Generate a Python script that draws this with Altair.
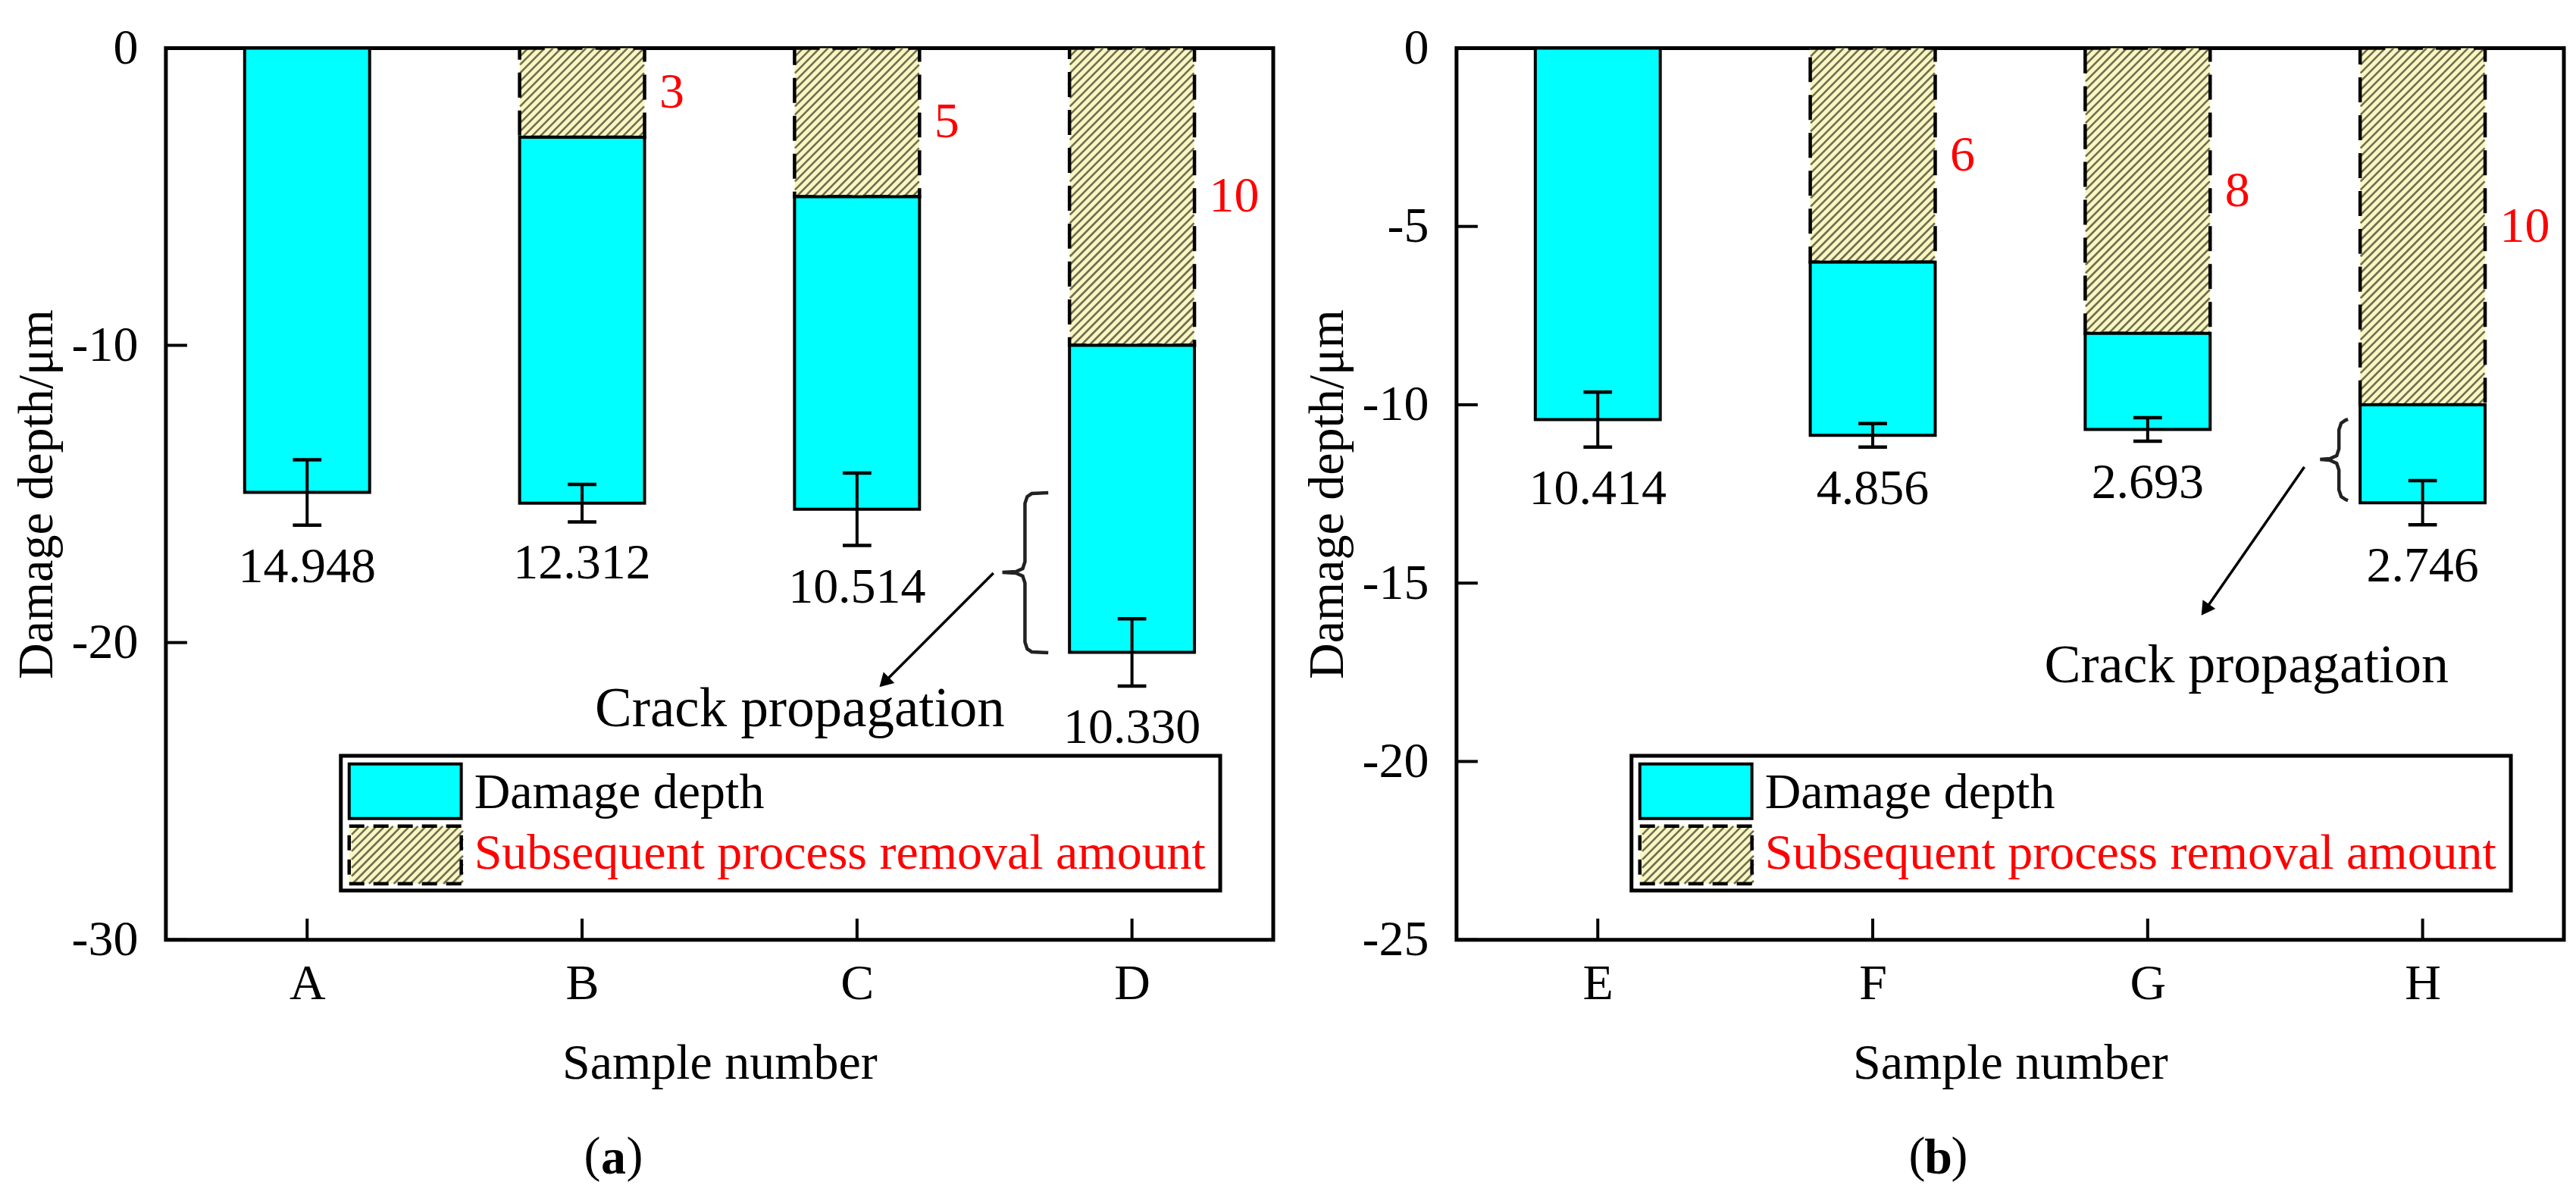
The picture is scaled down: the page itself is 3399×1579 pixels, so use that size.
import altair as alt
import pandas as pd

# ---------------- data ----------------
samples_a = ["A", "B", "C", "D"]
removal_a = [0, 3, 5, 10]
damage_a = [14.948, 12.312, 10.514, 10.330]
error_a = [1.10, 0.63, 1.22, 1.13]

samples_b = ["E", "F", "G", "H"]
removal_b = [0, 6, 8, 10]
damage_b = [10.414, 4.856, 2.693, 2.746]
error_b = [0.77, 0.33, 0.33, 0.62]

yticks_a = [0, -10, -20, -30]
yticks_b = [0, -5, -10, -15, -20, -25]

legend_labels = ["Damage depth", "Subsequent process removal amount"]
x_title = "Sample number"
y_title = "Damage depth/μm"
note_text = "Crack propagation"
captions = ["a", "b"]

# ---------------- style ----------------
W, H = 1462, 1177
BAR_W = 165
FONT = "Liberation Serif"
FS = 66
CYAN = "#00FFFF"
YELLOW = "#FAF6C2"
HATCH = "#6E6E52"
RED = "#FF0000"
HATCH_STEP = 11
CAP_PX = 19
TICK_LEN = 28


def hatch_segments(x0, x1, y0, y1, step):
    """45-degree hatch segments clipped to a pixel rectangle (screen coords)."""
    segs = []
    c = x0 + y0
    while c <= x1 + y1:
        xa = max(x0, c - y1)
        xb = min(x1, c - y0)
        if xb - xa > 0.5:
            segs.append((xa, c - xa, xb, c - xb))
        c += step
    return segs


def make_panel(samples, removal, damage, error, ymin, yticks, ann, title_pad=11):
    KX = W / 4.0
    PPU = H / abs(ymin)

    def to_x(px):
        return px / KX + 0.5

    def to_y(py):
        return -py / PPU

    idx = list(range(1, len(samples) + 1))
    df = pd.DataFrame({
        "x": idx,
        "sample": samples,
        "removal": removal,
        "damage": damage,
        "err": error,
    })
    df["rem_top"] = 0.0
    df["rem_bot"] = -df["removal"]
    df["dmg_bot"] = -(df["removal"] + df["damage"])
    df["err_hi"] = df["dmg_bot"] + df["err"]
    df["err_lo"] = df["dmg_bot"] - df["err"]
    df["lbl_x"] = df["x"] + (BAR_W / 2) / KX
    df["rem_mid"] = -df["removal"] / 2
    df["cap_l"] = df["x"] - CAP_PX / KX
    df["cap_r"] = df["x"] + CAP_PX / KX
    rem = df[df["removal"] > 0]

    hrows = []
    for _, r in rem.iterrows():
        cx = (r["x"] - 0.5) * KX
        for (xa, ya, xb, yb) in hatch_segments(cx - BAR_W / 2, cx + BAR_W / 2,
                                               0, r["removal"] * PPU, HATCH_STEP):
            hrows.append({"x": to_x(xa), "y": to_y(ya), "x2": to_x(xb), "y2": to_y(yb)})
    LX0, LX1 = 242, 390
    for (xa, ya, xb, yb) in hatch_segments(LX0, LX1, 1027, 1103, HATCH_STEP):
        hrows.append({"x": to_x(xa), "y": to_y(ya), "x2": to_x(xb), "y2": to_y(yb)})
    hdf = pd.DataFrame(hrows)

    xscale = alt.Scale(domain=[0.5, 4.5], nice=False, zero=False)
    yscale = alt.Scale(domain=[ymin, 0], nice=False, zero=False)
    xaxis = alt.Axis(values=idx,
                     labelExpr="[''," + ",".join(f"'{s}'" for s in samples) + "][datum.value]",
                     title=x_title, ticks=False, domain=False, grid=False,
                     labelPadding=26, titlePadding=40)
    yaxis = alt.Axis(values=yticks,
                     labelExpr="datum.value == 0 ? '0' : '-' + abs(datum.value)",
                     title=y_title, ticks=False, domain=False, grid=False,
                     labelPadding=37, titlePadding=title_pad)

    def XF(f):
        return alt.X(f"{f}:Q", scale=xscale, axis=xaxis)

    def YF(f):
        return alt.Y(f"{f}:Q", scale=yscale, axis=yaxis)

    base = alt.Chart(df)

    rem_fill = alt.Chart(rem).mark_bar(size=BAR_W, fill=YELLOW, strokeWidth=0).encode(
        x=XF("x"), y=YF("rem_top"), y2="rem_bot:Q")
    hatch = alt.Chart(hdf).mark_rule(color=HATCH, strokeWidth=2.6).encode(
        x=XF("x"), x2="x2:Q", y=YF("y"), y2="y2:Q")
    rem_border = alt.Chart(rem).mark_bar(size=BAR_W, fillOpacity=0, stroke="black",
                                         strokeWidth=4.5, strokeDash=[33, 17]).encode(
        x=XF("x"), y=YF("rem_top"), y2="rem_bot:Q")
    dmg = base.mark_bar(size=BAR_W, fill=CYAN, stroke="black", strokeWidth=4).encode(
        x=XF("x"), y=YF("rem_bot"), y2="dmg_bot:Q")
    err_v = base.mark_rule(color="black", strokeWidth=4).encode(
        x=XF("x"), y=YF("err_lo"), y2="err_hi:Q")
    cap_hi = base.mark_rule(color="black", strokeWidth=4.5).encode(
        x=XF("cap_l"), x2="cap_r:Q", y=YF("err_hi"))
    cap_lo = base.mark_rule(color="black", strokeWidth=4.5).encode(
        x=XF("cap_l"), x2="cap_r:Q", y=YF("err_lo"))
    val_lbl = base.mark_text(fontSize=FS, dy=55, baseline="middle", align="center",
                             color="black").encode(
        x=XF("x"), y=YF("err_lo"), text=alt.Text("damage:Q", format=".3f"))
    rem_lbl = alt.Chart(rem).mark_text(fontSize=FS, dx=20, baseline="middle", align="left",
                                       color=RED).encode(
        x=XF("lbl_x"), y=YF("rem_mid"), text=alt.Text("removal:Q", format="d"))

    ytick_df = pd.DataFrame({"y": yticks})
    ytk = alt.Chart(ytick_df).mark_rule(color="black", strokeWidth=4).encode(
        y=YF("y"), x=alt.value(0), x2=alt.value(TICK_LEN))
    xtick_df = pd.DataFrame({"x": idx})
    xtk = alt.Chart(xtick_df).mark_rule(color="black", strokeWidth=4).encode(
        x=XF("x"), y=alt.value(H), y2=alt.value(H - TICK_LEN))

    one = pd.DataFrame({"k": [0]})
    o = alt.Chart(one)
    leg_box = o.mark_rect(fill="white", stroke="black", strokeWidth=5).encode(
        x=alt.value(231), x2=alt.value(1392), y=alt.value(934), y2=alt.value(1112))
    leg_cyan = o.mark_rect(fill=CYAN, stroke="black", strokeWidth=4).encode(
        x=alt.value(LX0), x2=alt.value(LX1), y=alt.value(945), y2=alt.value(1017))
    leg_yel = o.mark_rect(fill=YELLOW, strokeWidth=0).encode(
        x=alt.value(LX0), x2=alt.value(LX1), y=alt.value(1027), y2=alt.value(1103))
    leg_yel_b = o.mark_rect(fillOpacity=0, stroke="black", strokeWidth=4.5,
                            strokeDash=[20, 12]).encode(
        x=alt.value(LX0), x2=alt.value(LX1), y=alt.value(1027), y2=alt.value(1103))
    leg_t1 = o.mark_text(fontSize=FS, align="left", baseline="middle", color="black",
                         text=legend_labels[0]).encode(x=alt.value(407), y=alt.value(983))
    leg_t2 = o.mark_text(fontSize=FS, align="left", baseline="middle", color=RED,
                         text=legend_labels[1]).encode(x=alt.value(407), y=alt.value(1063))

    xv, yt, yb, xt, ym, xh = ann["brace"]
    bpts = [(xh, yt), (xv + 9, yt + 1), (xv + 3, yt + 5), (xv, yt + 14),
            (xv, ym - 14), (xv - 3, ym - 5), (xv - 12, ym - 1), (xt, ym),
            (xv - 12, ym + 1), (xv - 3, ym + 5), (xv, ym + 14),
            (xv, yb - 14), (xv + 3, yb - 5), (xv + 9, yb - 1), (xh, yb)]
    bdf = pd.DataFrame({"x": [to_x(p[0]) for p in bpts], "y": [to_y(p[1]) for p in bpts],
                        "k": list(range(len(bpts)))})
    brace = alt.Chart(bdf).mark_line(color="#222222", strokeWidth=4.5).encode(
        x=XF("x"), y=YF("y"), order="k:Q")
    (ax0, ay0), (ax1, ay1) = ann["arrow"]
    adf = pd.DataFrame({"x": [to_x(ax0), to_x(ax1)], "y": [to_y(ay0), to_y(ay1)], "k": [0, 1]})
    arrow = alt.Chart(adf).mark_line(color="black", strokeWidth=3.5).encode(
        x=XF("x"), y=YF("y"), order="k:Q")
    head = alt.Chart(adf.iloc[[1]]).mark_point(shape="triangle", filled=True, size=420,
                                               color="black", opacity=1,
                                               angle=ann["angle"]).encode(x=XF("x"), y=YF("y"))
    note = o.mark_text(fontSize=ann["fs"], align="center", baseline="alphabetic",
                       color="black", text=note_text).encode(
        x=alt.value(ann["text"][0]), y=alt.value(ann["text"][1]))

    cx, cy = ann["cap"]
    cap1 = o.mark_text(fontSize=FS, align="right", baseline="middle", color="black",
                       text="(").encode(x=alt.value(cx - 17), y=alt.value(cy))
    cap2 = o.mark_text(fontSize=FS, align="center", baseline="middle", color="black",
                       fontWeight="bold", text=ann["letter"]).encode(
        x=alt.value(cx), y=alt.value(cy + 3))
    cap3 = o.mark_text(fontSize=FS, align="left", baseline="middle", color="black",
                       text=")").encode(x=alt.value(cx + 17), y=alt.value(cy))

    layers = [leg_box, rem_fill, leg_yel, hatch, rem_border, leg_yel_b, dmg, leg_cyan,
              err_v, cap_hi, cap_lo, val_lbl, rem_lbl, ytk, xtk, leg_t1, leg_t2,
              brace, arrow, head, note, cap1, cap2, cap3]
    return alt.layer(*layers).properties(width=W, height=H)


ann_a = {"brace": (1137, 587, 798, 1107, 692, 1168),
         "arrow": ((1095, 693), (952, 835)), "angle": 225,
         "text": (837, 895), "fs": 73, "cap": (591, 1462), "letter": captions[0]}
ann_b = {"brace": (1168, 490, 597, 1143, 543, 1180),
         "arrow": ((1122, 553), (992, 739)), "angle": 215,
         "text": (1043, 837), "fs": 72, "cap": (636, 1462), "letter": captions[1]}

panel_a = make_panel(samples_a, removal_a, damage_a, error_a, -30, yticks_a, ann_a)
panel_b = make_panel(samples_b, removal_b, damage_b, error_b, -25, yticks_b, ann_b)

chart = alt.hconcat(panel_a, panel_b, spacing=33).configure(
    font=FONT,
    padding={"left": 5, "top": 19, "right": 5, "bottom": 5},
).configure_view(
    stroke="black", strokeWidth=5
).configure_axis(
    labelFont=FONT, titleFont=FONT, labelFontSize=FS, titleFontSize=FS,
    labelColor="black", titleColor="black", titleFontWeight="normal",
)

chart.save("out.html", embed_options={"renderer": "svg", "actions": False})
